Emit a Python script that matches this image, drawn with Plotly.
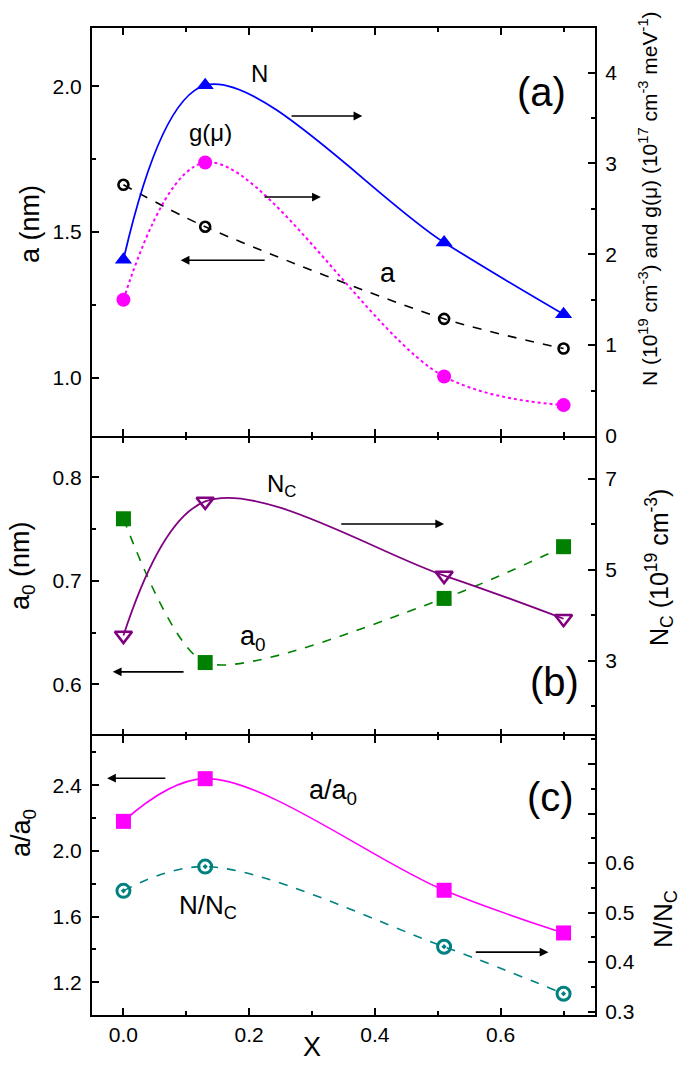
import plotly.graph_objects as go

# ---------------- data ----------------
x_vals = [0.0, 0.13, 0.51, 0.70]

# panel (a)
a_nm = [1.662, 1.518, 1.202, 1.100]          # left axis, a (nm)
N_1e19 = [1.94, 3.86, 2.13, 1.34]            # right axis, N (1e19 cm^-3)
g_mu = [1.50, 3.01, 0.655, 0.34]             # right axis, g(mu) (1e17 cm^-3 meV^-1)

# panel (b)
a0_nm = [0.760, 0.621, 0.683, 0.733]         # left axis, a0 (nm)
Nc_1e19 = [3.55, 6.50, 4.87, 3.92]           # right axis, Nc (1e19 cm^-3)

# panel (c)
a_over_a0 = [2.18, 2.44, 1.76, 1.50]         # left axis
N_over_Nc = [0.544, 0.593, 0.431, 0.336]     # right axis

x_tick_vals = [0.0, 0.2, 0.4, 0.6]
x_tick_text = ["0.0", "0.2", "0.4", "0.6"]
nnc_tick_vals = [0.3, 0.4, 0.5, 0.6, 0.7, 0.8]
nnc_tick_text = ["0.3", "0.4", "0.5", "0.6", "", ""]

FONT = "Arial, Liberation Sans, sans-serif"
W, H = 685, 1066
L, R, T, B = 92, 90, 28, 51
PW, PH = W - L - R, H - T - B

def py2paper(py):
    return (H - B - py) / PH

def px2paper(px):
    return (px - L) / PW

# panel domains (paper fractions)
dA = [py2paper(436), 1.0]
dB = [py2paper(736), py2paper(436)]
dC = [0.0, py2paper(736)]

fig = go.Figure()

# panel (a)
fig.add_trace(go.Scatter(x=x_vals, y=a_nm, xaxis="x3", yaxis="y", mode="lines+markers",
                         line=dict(color="black", width=1.6, dash="dash", shape="spline", smoothing=0.8),
                         marker=dict(symbol="circle-open", size=10, color="black", line=dict(width=2.6)),
                         name="a", showlegend=False))
fig.add_trace(go.Scatter(x=x_vals, y=g_mu, xaxis="x3", yaxis="y2", mode="lines+markers",
                         line=dict(color="#FF00FF", width=2, dash="dot", shape="spline", smoothing=1.0),
                         marker=dict(symbol="circle", size=14, color="#FF00FF"),
                         name="g(μ)", showlegend=False))
fig.add_trace(go.Scatter(x=x_vals, y=N_1e19, xaxis="x3", yaxis="y2", mode="lines+markers",
                         line=dict(color="#0000FF", width=1.8, shape="spline", smoothing=1.0),
                         marker=dict(symbol="triangle-up", size=15, color="#0000FF"),
                         name="N", showlegend=False))

# panel (b)
fig.add_trace(go.Scatter(x=x_vals, y=a0_nm, xaxis="x2", yaxis="y3", mode="lines+markers",
                         line=dict(color="#008000", width=1.6, dash="dash", shape="spline", smoothing=0.7),
                         marker=dict(symbol="square", size=15, color="#008000"),
                         name="a0", showlegend=False))
fig.add_trace(go.Scatter(x=x_vals, y=Nc_1e19, xaxis="x2", yaxis="y4", mode="lines+markers",
                         line=dict(color="#800080", width=1.8, shape="spline", smoothing=1.0),
                         marker=dict(symbol="triangle-down-open", size=15, color="#800080", line=dict(width=2.6)),
                         name="Nc", showlegend=False))

# panel (c)
fig.add_trace(go.Scatter(x=x_vals, y=a_over_a0, xaxis="x", yaxis="y5", mode="lines+markers",
                         line=dict(color="#FF00FF", width=1.6, shape="spline", smoothing=1.0),
                         marker=dict(symbol="square", size=15, color="#FF00FF"),
                         name="a/a0", showlegend=False))
fig.add_trace(go.Scatter(x=x_vals, y=N_over_Nc, xaxis="x", yaxis="y6", mode="lines+markers",
                         line=dict(color="#008080", width=1.6, dash="dash", shape="spline", smoothing=1.0),
                         marker=dict(symbol="circle-open-dot", size=13, color="#008080", line=dict(width=3)),
                         name="N/Nc", showlegend=False))

tickfont = dict(family=FONT, size=21, color="black")
common_axis = dict(showline=True, linewidth=2, linecolor="black", ticks="inside", ticklen=7,
                   tickwidth=1.5, tickcolor="black", showgrid=False, zeroline=False, tickfont=tickfont,
                   automargin=False)

def xaxis(anchor, labels, showline=True):
    d = dict(common_axis)
    d.update(domain=[0, 1], anchor=anchor, range=[-0.05, 0.75], tickvals=x_tick_vals,
             ticktext=x_tick_text, showticklabels=labels, mirror="ticks",
             showline=showline,
             minor=dict(dtick=0.1, tick0=0, ticks="inside", ticklen=4, tickwidth=1.5, tickcolor="black"))
    return d

def yaxis(domain, anchor, rng, dtick, tick0, minor_dtick, side="left", overlaying=None,
          tickvals=None, ticktext=None, fmt=None):
    d = dict(common_axis)
    d.update(domain=domain, anchor=anchor, range=rng, side=side, ticklabelstandoff=4,
             minor=dict(dtick=minor_dtick, tick0=tick0, ticks="inside", ticklen=4, tickwidth=1.5,
                        tickcolor="black"))
    if tickvals is not None:
        d.update(tickvals=tickvals, ticktext=ticktext)
    else:
        d.update(dtick=dtick, tick0=tick0)
    if fmt:
        d.update(tickformat=fmt)
    if overlaying:
        d.update(overlaying=overlaying)
    return d

fig.update_layout(
    width=W, height=H,
    margin=dict(l=L, r=R, t=T, b=B),
    paper_bgcolor="white", plot_bgcolor="white",
    font=dict(family=FONT, color="black", size=21),
    showlegend=False,
    xaxis=xaxis("y5", True),
    xaxis2=dict(xaxis("y3", False, showline=False), matches="x"),
    xaxis3=dict(xaxis("y", False), matches="x"),
    yaxis=yaxis(dA, "x3", [0.8, 2.2], 0.5, 0, 0.25, fmt=".1f"),
    yaxis2=yaxis(dA, "x3", [0, 4.49], 1, 0, 0.5, side="right", overlaying="y"),
    yaxis3=yaxis(dB, "x2", [0.55, 0.84], 0.1, 0, 0.05, fmt=".1f"),
    yaxis4=yaxis(dB, "x2", [1.34, 7.94], 2, 1, 1, side="right", overlaying="y3"),
    yaxis5=yaxis(dC, "x", [1.0, 2.7], 0.4, 0, 0.2, fmt=".1f"),
    yaxis6=yaxis(dC, "x", [0.293, 0.857], None, 0, 0.05, side="right", overlaying="y5",
                 tickvals=nnc_tick_vals, ticktext=nnc_tick_text),
)

ann = []

def text(x, y, s, xref, yref, size):
    ann.append(dict(x=x, y=y, xref=xref, yref=yref, text=s, showarrow=False,
                    font=dict(family=FONT, size=size, color="black"),
                    xanchor="center", yanchor="middle"))

def arrow(x0, x1, y, xref, yref):
    ann.append(dict(x=x1, y=y, ax=x0, ay=y, xref=xref, yref=yref, axref=xref, ayref=yref,
                    text="", showarrow=True, arrowhead=2, arrowsize=1.1, arrowwidth=1.6,
                    arrowcolor="black"))

# panel (a)
text(0.217, 2.043, "N", "x3", "y", 24)
text(0.665, 1.98, "(a)", "x3", "y", 40)
text(0.139, 1.84, "g(μ)", "x3", "y", 24)
text(0.42, 1.36, "a", "x3", "y", 27)
arrow(0.265, 0.38, 1.898, "x3", "y")
arrow(0.222, 0.314, 1.62, "x3", "y")
arrow(0.227, 0.091, 1.403, "x3", "y")

# panel (b)
text(0.252, 0.792, "N<sub>C</sub>", "x2", "y3", 24)
text(0.206, 0.645, "a<sub>0</sub>", "x2", "y3", 27)
text(0.686, 0.602, "(b)", "x2", "y3", 40)
arrow(0.344, 0.51, 0.755, "x2", "y3")
arrow(0.098, -0.017, 0.612, "x2", "y3")

# panel (c)
text(0.68, 2.327, "(c)", "x", "y5", 40)
text(0.334, 2.36, "a/a<sub>0</sub>", "x", "y5", 27)
text(0.135, 1.66, "N/N<sub>C</sub>", "x", "y5", 26)
arrow(0.069, -0.026, 2.443, "x", "y5")
arrow(0.558, 0.676, 1.383, "x", "y5")

# axis titles
def vtitle(px, py, s, size):
    ann.append(dict(x=px2paper(px), y=py2paper(py), xref="paper", yref="paper", text=s,
                    showarrow=False, textangle=-90, xanchor="center", yanchor="middle",
                    font=dict(family=FONT, size=size, color="black")))

vtitle(30, 224, "a (nm)", 27)
vtitle(22, 566, "a<sub>0</sub> (nm)", 27)
vtitle(23, 833, "a/a<sub>0</sub>", 27)
vtitle(648, 199, "N (10<sup>19</sup> cm<sup>-3</sup>) and g(μ) (10<sup>17</sup> cm<sup>-3</sup> meV<sup>-1</sup>)", 21)
vtitle(659, 568, "N<sub>C</sub> (10<sup>19</sup> cm<sup>-3</sup>)", 25)
vtitle(664, 919, "N/N<sub>C</sub>", 26)

ann.append(dict(x=0.3, y=py2paper(1064), xref="x", yref="paper", text="X", showarrow=False,
                xanchor="center", yanchor="bottom", font=dict(family=FONT, size=27, color="black")))

fig.update_layout(annotations=ann)

fig.write_html("out.html",
               config={"displayModeBar": False},
               post_script="document.body.style.margin='0';document.body.style.padding='0';"
                           "document.body.style.overflow='hidden';")
